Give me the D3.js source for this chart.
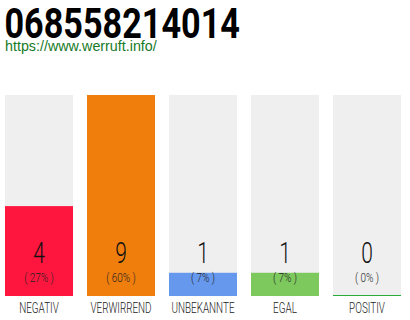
<!DOCTYPE html>
<html><head><meta charset="utf-8">
<script src="https://cdn.jsdelivr.net/npm/d3@7"></script>
<style>html,body{margin:0;padding:0;background:#fff;}svg{display:block;}</style>
</head><body>
<svg id="c" width="410" height="320"></svg>
<script>
const title = "068558214014";
const url = "https://www.werruft.info/";
const categories = ["NEGATIV","VERWIRREND","UNBEKANNTE","EGAL","POSITIV"];
const values = [4, 9, 1, 1, 0];
const percents = ["( 27% )","( 60% )","( 7% )","( 7% )","( 0% )"];
const colors = ["#ff163f","#f07e0d","#6699ee","#7dc95e","#2aaa3a"];

const svg = d3.select("#c");
const x = d3.scaleBand().domain(categories).range([5, 401]).paddingInner(14/82).paddingOuter(0);
const bw = x.bandwidth();
const y = d3.scaleLinear().domain([0, d3.max(values)]).range([295, 95]);
const baseY = 296, topY = 95;

// title
const t = svg.append("text").attr("x",0).attr("y",0)
  .attr("font-family","Roboto, 'Liberation Sans', sans-serif").attr("font-weight",700)
  .attr("font-size",42).attr("fill","#000").text(title);
const tl = t.node().getComputedTextLength();
t.attr("transform",`translate(4.5,37.5) scale(${235.5/tl},1)`);

svg.append("text").attr("x",5).attr("y",50.5)
  .attr("font-family","'Liberation Sans', Arial, sans-serif").attr("font-size",14.3)
  .attr("fill","#177a27").text(url);

const g = svg.selectAll("g.bar").data(categories).join("g").attr("class","bar");
g.append("rect").attr("x",d=>x(d)).attr("width",bw).attr("y",topY).attr("height",baseY-topY).attr("fill","#efefef");
g.append("rect").attr("x",d=>x(d)).attr("width",bw).attr("y",(d,i)=>y(values[i])).attr("height",(d,i)=>baseY-y(values[i])).attr("fill",(d,i)=>colors[i]);

const lightFont = "Roboto, 'Liberation Sans Narrow', sans-serif";
g.append("text").attr("text-anchor","middle")
  .attr("transform",d=>`translate(${x(d)+bw/2},263) scale(0.7,1)`)
  .attr("font-family",lightFont).attr("font-weight",300).attr("font-size",30)
  .attr("fill","#111").text((d,i)=>values[i]);
g.append("text").attr("text-anchor","middle")
  .attr("transform",d=>`translate(${x(d)+bw/2},282) scale(0.74,1)`)
  .attr("font-family",lightFont).attr("font-weight",300).attr("font-size",13.5)
  .attr("fill","#222").text((d,i)=>percents[i]);
g.append("text").attr("text-anchor","middle")
  .attr("transform",d=>`translate(${x(d)+bw/2},313) scale(0.66,1)`)
  .attr("font-family",lightFont).attr("font-weight",300).attr("font-size",15)
  .attr("fill","#222").text(d=>d);
</script>
</body></html>
